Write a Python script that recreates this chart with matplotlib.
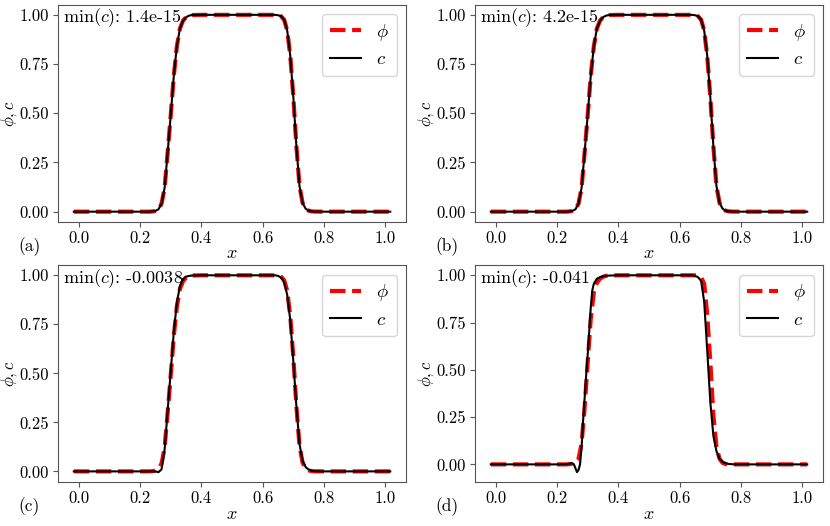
import numpy as np
import matplotlib
matplotlib.use("Agg")
from matplotlib import pyplot as plt

# Computer Modern look without LaTeX
plt.rcParams["font.family"] = "serif"
plt.rcParams["font.serif"] = ["cmr10"]
plt.rcParams["mathtext.fontset"] = "cm"
plt.rcParams["axes.formatter.use_mathtext"] = True
plt.rcParams["font.size"] = 13
plt.rcParams["axes.edgecolor"] = "#555555"

# Common x grid for phi and for c in panels a-c
x_grid = [-0.016, 0.20, 0.23, 0.24, 0.25, 0.26, 0.27, 0.28, 0.29, 0.30, 0.31, 0.32,
          0.33, 0.34, 0.35, 0.36, 0.37, 0.40, 0.60, 0.64, 0.65, 0.66, 0.67, 0.68,
          0.69, 0.70, 0.71, 0.72, 0.73, 0.74, 0.75, 0.76, 0.77, 0.80, 1.016]

phi_a = [0, 0, 0, 0.001, 0.004, 0.012, 0.04, 0.12, 0.30, 0.49, 0.69, 0.84,
         0.93, 0.97, 0.988, 0.996, 0.999, 1, 1, 1, 0.998, 0.993, 0.975, 0.92,
         0.79, 0.58, 0.33, 0.13, 0.045, 0.015, 0.005, 0.0015, 0.0005, 0, 0]
c_a = [0, 0, 0, 0.001, 0.004, 0.012, 0.04, 0.12, 0.30, 0.49, 0.69, 0.84,
       0.93, 0.97, 0.988, 0.996, 0.999, 1, 1, 1, 0.998, 0.993, 0.975, 0.92,
       0.79, 0.58, 0.33, 0.13, 0.045, 0.015, 0.005, 0.0015, 0.0005, 0, 0]

phi_b = [0, 0, 0, 0.001, 0.004, 0.012, 0.04, 0.12, 0.30, 0.49, 0.69, 0.84,
         0.93, 0.97, 0.988, 0.996, 0.999, 1, 1, 1, 0.998, 0.993, 0.975, 0.92,
         0.79, 0.58, 0.33, 0.13, 0.045, 0.015, 0.005, 0.0015, 0.0005, 0, 0]
c_b = [0, 0, 0, 0.001, 0.004, 0.012, 0.041, 0.12, 0.30, 0.49, 0.69, 0.84,
       0.93, 0.97, 0.988, 0.996, 0.999, 1, 1, 1, 0.998, 0.993, 0.975, 0.92,
       0.79, 0.58, 0.33, 0.13, 0.045, 0.015, 0.005, 0.0015, 0.0005, 0, 0]

phi_c = [0, 0, 0, 0.001, 0.004, 0.012, 0.04, 0.12, 0.30, 0.49, 0.69, 0.84,
         0.93, 0.97, 0.988, 0.996, 0.999, 1, 1, 1, 0.998, 0.993, 0.975, 0.92,
         0.79, 0.58, 0.33, 0.13, 0.045, 0.015, 0.005, 0.0015, 0.0005, 0, 0]
c_c = [0, 0, 0, 0, 0, -0.0038, 0.01, 0.11, 0.31, 0.51, 0.71, 0.86,
       0.945, 0.98, 0.993, 0.997, 0.999, 1, 1, 1, 0.997, 0.988, 0.965, 0.90,
       0.77, 0.56, 0.33, 0.14, 0.055, 0.022, 0.009, 0.003, 0.001, 0, 0]

phi_d = [0, 0, 0, 0.001, 0.004, 0.01, 0.028, 0.11, 0.30, 0.54, 0.77, 0.91,
         0.96, 0.982, 0.992, 0.997, 0.999, 1, 1, 1, 1.0, 0.998, 0.99, 0.955,
         0.79, 0.54, 0.26, 0.09, 0.03, 0.008, 0.002, 0.0005, 0, 0, 0]

# c in panel d has a finer grid around the undershoot
x_cd = [-0.016, 0.20, 0.23, 0.24, 0.25, 0.255, 0.26, 0.265, 0.27, 0.275, 0.28,
        0.285, 0.29, 0.295, 0.30, 0.305, 0.31, 0.315, 0.32, 0.33, 0.34, 0.35,
        0.36, 0.40, 0.60, 0.64, 0.65, 0.66, 0.67, 0.68, 0.69, 0.70, 0.71, 0.72,
        0.73, 0.74, 0.75, 0.76, 0.77, 0.78, 0.80, 1.016]
c_d = [0, 0, 0, 0.004, 0.006, 0.0, -0.02, -0.041, -0.03, 0.0, 0.09,
       0.23, 0.35, 0.47, 0.58, 0.70, 0.83, 0.92, 0.955, 0.982, 0.99, 0.995,
       0.998, 1, 1, 1, 0.997, 0.99, 0.97, 0.86, 0.60, 0.33, 0.15, 0.07,
       0.03, 0.013, 0.006, 0.002, 0.001, 0, 0, 0]

panel_labels = ["(a)", "(b)", "(c)", "(d)"]
min_texts = ["1.4e-15", "4.2e-15", "-0.0038", "-0.041"]
phis = [phi_a, phi_b, phi_c, phi_d]
cs = [(x_grid, c_a), (x_grid, c_b), (x_grid, c_c), (x_cd, c_d)]

fig, axes = plt.subplots(2, 2, figsize=(8.3, 5.26), dpi=100)
plt.subplots_adjust(left=0.0699, right=0.9916, bottom=0.0837, top=0.9905,
                    wspace=0.198, hspace=0.203)

for ax, phi, (xc, c), lab, mtxt in zip(axes.flat, phis, cs, panel_labels, min_texts):
    ax.plot(x_grid, phi, color="red", linestyle="--", linewidth=3, label=r"$\phi$")
    ax.plot(xc, c, color="black", linewidth=1.5, label=r"$c$")
    ax.set_xlabel(r"$x$", labelpad=0)
    # y label placed by hand so it sits close to the tick labels like the original
    ax.text(-0.140, 0.5, r"$\phi, c$", transform=ax.transAxes, rotation=90,
            ha="center", va="center", fontsize=12)
    ax.set_yticks([0.0, 0.25, 0.5, 0.75, 1.0])
    ax.set_yticklabels(["0.00", "0.25", "0.50", "0.75", "1.00"])
    ax.set_xticks([0.0, 0.2, 0.4, 0.6, 0.8, 1.0])
    ax.set_xticklabels(["0.0", "0.2", "0.4", "0.6", "0.8", "1.0"])
    ax.tick_params(colors="#555555", labelcolor="black", pad=3, labelsize=12)
    ax.legend(loc="upper right", fontsize=13.5, handlelength=1.7, labelspacing=0.4)
    ax.text(0.014, 0.94, r"$\mathrm{min}(c)$: " + mtxt, transform=ax.transAxes,
            ha="left", va="center", fontsize=13)
    ax.text(-0.115, -0.115, lab, transform=ax.transAxes, ha="left", va="center",
            fontsize=12.5)

plt.savefig("out.png", dpi=100)
plt.close()
